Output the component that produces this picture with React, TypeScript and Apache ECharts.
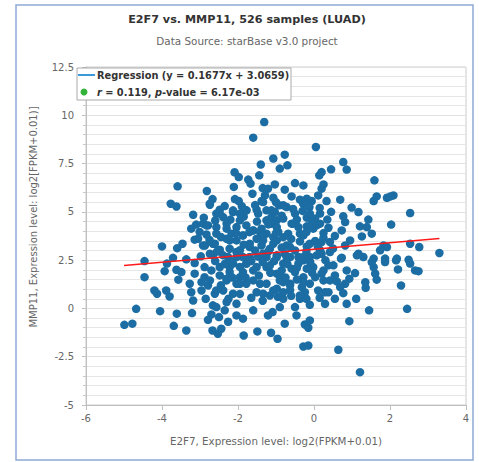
import React, { useEffect, useRef } from "react";
import * as echarts from "echarts";

const titleText = "E2F7 vs. MMP11, 526 samples (LUAD)";
const subtitleText = "Data Source: starBase v3.0 project";
const xAxisName = "E2F7, Expression level: log2(FPKM+0.01)";
const yAxisName = "MMP11, Expression level: log2[FPKM+0.01)]";
const regressionLabel = "Regression (y = 0.1677x + 3.0659)";
const statsLabel = "{i|r} = 0.119, {i|p}-value = 6.17e-03";

const slope = 0.1677;
const intercept = 3.0659;
const regressionRange = [-5.0, 3.3];

const xTicks = { min: -6, max: 4, interval: 2 };
const yTicks = { min: -5, max: 12.5, interval: 2.5 };

const samplePoints: [number, number][] = [
  [-1.31, 9.65], [-1.6, 8.84], [-1.07, 7.76], [-1.4, 7.45], [-2.09, 7.05], [-1.98, 6.8], [-1.44, 6.89], [-1.73, 6.67],
  [-1.67, 6.46], [-3.59, 6.32], [-2.11, 6.29], [-1.35, 6.23], [-1.21, 6.2], [-2.82, 6.08], [-1.62, 5.94], [-1.29, 5.85],
  [-1.07, 5.73], [-2.67, 5.66], [-2.08, 5.66], [-1.98, 5.56], [-1.38, 5.56], [-3.77, 5.42], [-3.62, 5.28], [-2.74, 5.37],
  [-2.48, 5.11], [-1.78, 5.08], [-1.51, 5.11], [-1.25, 5.08], [-3.18, 4.85], [-2.57, 4.91], [-2.13, 4.99], [-1.95, 4.91],
  [-2.39, 4.73], [-1.12, 4.73], [-0.98, 4.56], [-3.1, 4.34], [-2.92, 4.39], [-2.79, 4.3], [-3.23, 4.13], [-2.57, 4.21],
  [-2.3, 4.13], [-2.04, 4.21], [-1.78, 4.3], [-1.6, 4.04], [-1.38, 4.13], [-3.01, 3.96], [-2.83, 3.83], [-2.17, 3.87],
  [-1.87, 3.78], [-1.25, 3.87], [-3.14, 3.56], [-3.05, 3.61], [-2.3, 3.61], [-2.04, 3.52], [-1.51, 3.61], [-1.07, 3.69],
  [-4.0, 3.21], [-3.6, 3.12], [-3.46, 3.35], [-2.87, 3.26], [-2.66, 3.35], [-2.48, 3.04], [-2.22, 3.09], [-1.95, 3.01],
  [-1.69, 3.18], [-1.38, 3.26], [-1.16, 3.09], [-3.71, 2.62], [-3.36, 2.54], [-4.46, 2.45], [-2.98, 2.7], [-2.66, 2.75],
  [-2.26, 2.66], [-1.87, 2.66], [-1.47, 2.68], [-1.25, 2.66], [-0.98, 2.66],
  [0.05, 8.36], [-0.77, 7.96], [-0.7, 7.41], [-0.9, 7.24], [0.77, 7.58], [0.86, 7.19], [0.45, 7.2], [0.2, 7.06],
  [0.14, 6.89], [1.59, 6.63], [-0.5, 6.49], [-0.28, 6.37], [0.25, 6.42], [0.2, 6.2], [-1.03, 6.42], [-0.77, 6.15],
  [1.65, 5.8], [1.57, 5.56], [1.92, 5.73], [2.09, 5.85], [2.01, 5.8], [-0.59, 5.8], [-0.37, 5.63], [-0.19, 5.68],
  [-0.06, 5.56], [0.11, 5.85], [0.33, 5.56], [0.69, 5.63], [-0.92, 5.34], [-0.72, 5.25], [-0.28, 5.42], [-0.12, 5.25],
  [0.99, 5.22], [1.17, 4.99], [2.53, 4.94], [-1.03, 4.99], [-0.5, 4.91], [0.16, 4.91], [0.77, 4.77], [-0.81, 4.65],
  [-0.19, 4.7], [0.03, 4.65], [1.43, 4.6], [0.82, 4.47], [-1.12, 4.39], [-0.59, 4.39], [0.16, 4.39], [1.21, 4.25],
  [1.39, 4.21], [2.03, 4.34], [-0.41, 4.21], [-0.19, 4.25], [-0.02, 4.13], [0.38, 4.18], [0.73, 4.04], [-0.94, 3.96],
  [-0.68, 3.87], [-0.28, 3.78], [0.25, 3.9], [1.26, 3.73], [1.52, 3.87], [0.95, 3.52], [-0.98, 3.52], [-0.37, 3.47],
  [0.03, 3.49], [0.42, 3.44], [1.83, 3.26], [1.92, 3.18], [2.53, 3.35], [2.77, 3.18], [3.3, 2.87], [-0.72, 3.26],
  [-0.19, 3.21], [0.16, 3.01], [0.82, 3.26], [1.74, 3.01], [0.42, 2.92], [1.17, 2.83], [1.3, 2.66], [-0.77, 2.83],
  [-0.41, 2.66], [-0.11, 2.66], [0.73, 2.63], [1.57, 2.58], [1.87, 2.58], [2.18, 2.58], [2.49, 2.52],
  [-4.46, 1.62], [-3.87, 2.32], [-3.93, 1.93], [-3.62, 2.0], [-3.49, 1.88], [-3.57, 1.49], [-4.2, 0.93], [-4.13, 0.76],
  [-3.89, 0.93], [-3.8, 0.62], [-4.68, -0.02], [-4.05, -0.14], [-3.61, -0.27], [-4.99, -0.85], [-4.78, -0.79], [-3.69, -0.9],
  [-3.36, -1.14], [-3.14, 2.35], [-3.14, 1.8], [-3.27, 1.28], [-3.23, 0.84], [-3.18, 0.41], [-3.21, -0.24], [-2.96, 1.36],
  [-2.88, 1.62], [-2.7, 1.97], [-2.79, 1.19], [-2.61, 0.76], [-2.85, 0.5], [-2.66, 0.16], [-2.57, 0.07], [-2.7, -0.31],
  [-2.79, -0.59], [-2.5, -0.45], [-2.3, 0.33], [-2.35, -0.1], [-2.26, -0.69], [-2.04, 0.24], [-2.04, -0.36], [-1.87, -0.53],
  [-1.6, -0.1], [-2.67, -1.14], [-2.53, -1.31], [-2.44, -1.05], [-1.85, -1.4], [-1.49, -1.19], [-1.13, -1.26], [-0.96, -1.57],
  [-1.21, -0.36], [-1.09, -0.19], [-2.39, 0.93], [-2.3, 1.45], [-2.48, 1.71], [-2.22, 2.14], [-1.95, 1.62], [-1.78, 1.28],
  [-2.04, 1.28], [-1.6, 1.97], [-1.42, 1.28], [-1.34, 0.76], [-1.07, 0.93], [-0.98, 1.8], [-1.25, 2.14], [-1.78, 2.32],
  [-2.04, 2.66], [-2.96, 0.93],
  [1.21, -3.3], [0.64, -2.14], [-0.28, -1.97], [-0.15, -1.92], [0.93, -0.66], [2.45, -0.02], [1.45, -0.1], [-0.24, -0.83],
  [-0.11, -0.62], [-0.15, -1.0], [-0.77, -0.79], [-0.46, -0.36], [-0.5, 0.07], [-0.9, 0.07], [-0.11, 0.19], [0.29, 0.24],
  [0.86, 0.24], [1.11, 0.5], [-0.81, 0.5], [-0.37, 0.5], [2.29, 1.19], [1.36, 1.07], [1.35, 1.36], [1.65, 1.49],
  [1.61, 1.8], [1.57, 2.14], [1.52, 2.4], [1.87, 2.4], [2.21, 2.02], [2.66, 1.97], [2.75, 1.93], [2.53, 2.32],
  [2.16, 2.49], [0.71, 2.58], [1.13, 2.75], [0.86, 1.97], [1.08, 1.83], [0.93, 1.54], [0.82, 1.28], [0.69, 1.1],
  [0.77, 0.79], [0.55, 1.71], [0.42, 1.45], [0.29, 0.84], [0.38, 0.84], [0.03, 1.62], [0.2, 1.8], [-0.02, 2.14],
  [0.38, 2.23], [0.51, 2.23], [-0.19, 2.06], [-0.28, 1.62], [-0.11, 1.28], [-0.32, 1.1], [-0.24, 0.84], [-0.63, 1.28],
  [-0.81, 1.36], [-0.63, 0.93], [-0.98, 1.02], [-0.9, 1.71], [-0.59, 2.06], [-0.41, 2.32], [-0.72, 2.66], [0.2, 2.83],
  [-0.28, 2.66],
  [-2.74, 5.42], [-2.48, 4.91], [-2.13, 5.08], [-1.78, 5.08], [-1.34, 5.51], [-0.81, 5.34], [-0.28, 5.42], [-0.11, 4.91],
  [-2.83, 4.3], [-2.3, 4.39], [-1.95, 4.56], [-1.6, 4.04], [-1.25, 4.56], [-0.98, 4.21], [-0.55, 4.39], [-0.37, 3.87],
  [0.07, 4.3], [-2.92, 3.26], [-2.61, 3.35], [-2.22, 3.52], [-1.87, 3.78], [-1.69, 3.35], [-1.34, 3.52], [-1.07, 3.35],
  [-0.81, 3.69], [-0.63, 3.18], [-0.11, 3.35], [0.2, 3.44], [-2.74, 2.83], [-2.39, 2.75], [-2.04, 2.92], [-1.69, 2.66],
  [-1.34, 2.83], [-0.98, 2.75], [-0.63, 2.66], [-0.28, 2.49], [0.07, 2.75], [-2.88, 2.14], [-2.48, 2.14], [-2.13, 2.32],
  [-1.87, 1.88], [-1.51, 2.14], [-1.16, 2.23], [-0.85, 1.97], [-0.5, 1.88], [-0.11, 2.06], [0.25, 1.97], [-2.74, 1.45],
  [-2.3, 1.54], [-1.95, 1.28], [-1.6, 1.45], [-1.25, 1.28], [-0.9, 1.45], [-0.63, 1.19], [-0.28, 1.36], [-2.57, 0.93],
  [-2.13, 0.76], [-1.51, 0.84], [-1.16, 0.67], [-0.81, 0.84], [-0.37, 0.67], [0.11, 0.93], [-1.47, 4.91], [-1.12, 5.08],
  [-2.57, 3.87], [-1.42, 3.96], [-0.81, 2.32], [-1.78, 2.32], [-2.22, 1.88],
  [-2.9, 4.7], [-2.6, 4.55], [-2.2, 4.6], [-1.85, 4.75], [-1.5, 4.5], [-1.2, 4.35], [-0.85, 4.8], [-0.45, 4.6],
  [-0.05, 4.5], [0.35, 4.6], [-2.75, 3.55], [-2.45, 3.7], [-2.05, 3.9], [-1.7, 3.95], [-1.35, 3.75], [-1.0, 3.9],
  [-0.6, 3.6], [-0.2, 3.95], [0.25, 3.65], [0.55, 3.75], [-2.55, 2.95], [-2.2, 2.45], [-1.85, 3.3], [-1.55, 3.0],
  [-1.2, 2.95], [-0.85, 3.15], [-0.5, 3.0], [-0.2, 2.95], [0.1, 3.2], [0.5, 3.1], [-2.6, 2.45], [-2.35, 2.3],
  [-1.95, 2.15], [-1.65, 2.45], [-1.35, 2.4], [-1.05, 2.45], [-0.7, 2.3], [-0.45, 2.1], [-0.1, 2.4], [0.3, 2.5],
  [-2.45, 1.2], [-2.15, 1.6], [-1.8, 1.6], [-1.45, 1.7], [-1.15, 1.85], [-0.75, 1.6], [-0.45, 1.5], [-0.05, 1.85],
  [0.25, 1.45], [0.6, 1.4], [-2.25, 0.5], [-1.95, 0.75], [-1.65, 0.55], [-1.35, 0.4], [-0.95, 0.6], [-0.6, 0.65],
  [-0.2, 0.5], [0.15, 0.55], [0.55, 0.5], [-1.9, 5.3], [-1.55, 5.35], [-1.0, 5.5], [-0.55, 5.15], [-0.3, 5.05],
  [0.15, 5.2], [0.45, 5.0], [-2.35, 5.3],
];

const FONT = "DejaVu Sans";

export default function App() {
  const ref = useRef<HTMLDivElement>(null);
  useEffect(() => {
    if (!ref.current) return;
    const chart = echarts.init(ref.current, undefined, { renderer: "svg" });
    const regressionData = regressionRange.map((x) => [x, +(slope * x + intercept).toFixed(4)]);
    chart.setOption({
      animation: false,
      backgroundColor: "#ffffff",
      textStyle: { fontFamily: FONT },
      grid: {
        left: 86,
        right: 13,
        top: 67,
        bottom: 57,
        show: true,
        backgroundColor: "#ffffff",
        borderColor: "#cccccc",
        borderWidth: 1,
      },
      xAxis: {
        type: "value",
        min: xTicks.min,
        max: xTicks.max,
        interval: xTicks.interval,
        name: xAxisName,
        nameLocation: "middle",
        nameGap: 31,
        nameTextStyle: { color: "#666666", fontSize: 10.3, fontFamily: FONT },
        axisLine: { show: true, onZero: false, lineStyle: { color: "#c0c0c0" } },
        axisTick: { show: true, length: 5, lineStyle: { color: "#c0c0c0" } },
        axisLabel: { color: "#666666", fontSize: 10, margin: 8, fontFamily: FONT },
        splitLine: { show: false },
      },
      yAxis: {
        type: "value",
        min: yTicks.min,
        max: yTicks.max,
        interval: yTicks.interval,
        axisLine: { show: true, onZero: false, lineStyle: { color: "#c0c0c0" } },
        axisTick: { show: true, length: 4, lineStyle: { color: "#c0c0c0" } },
        minorTick: { show: true, splitNumber: 5, length: 3, lineStyle: { color: "#c8c8c8" } },
        axisLabel: { color: "#666666", fontSize: 10, margin: 12, fontFamily: FONT },
        splitLine: { show: true, lineStyle: { color: "#e2e2e2" } },
        minorSplitLine: { show: true, lineStyle: { color: "#e6e6e6" } },
      },
      series: [
        {
          type: "scatter",
          name: "samples",
          data: samplePoints,
          symbolSize: 8.5,
          itemStyle: { color: "#1b6da3", opacity: 1 },
          z: 2,
        },
        {
          type: "line",
          name: "Regression",
          data: regressionData,
          showSymbol: false,
          lineStyle: { color: "#ff1a1a", width: 1.5 },
          z: 3,
        },
      ],
      graphic: [
        {
          type: "rect",
          shape: { x: 16, y: 5, width: 457, height: 455 },
          style: { fill: "none", stroke: "#8ea9d6", lineWidth: 1.5 },
          silent: true,
        },
        {
          type: "text",
          x: 247,
          y: 19,
          style: {
            text: titleText,
            fill: "#333333",
            font: `bold 11.2px ${FONT}`,
            textAlign: "center",
            textVerticalAlign: "middle",
          },
        },
        {
          type: "text",
          x: 247,
          y: 41,
          style: {
            text: subtitleText,
            fill: "#666666",
            font: `10.4px ${FONT}`,
            textAlign: "center",
            textVerticalAlign: "middle",
          },
        },
        {
          type: "text",
          x: 33,
          y: 217,
          rotation: Math.PI / 2,
          style: {
            text: yAxisName,
            fill: "#666666",
            font: `10px ${FONT}`,
            textAlign: "center",
            textVerticalAlign: "middle",
          },
        },
        {
          type: "rect",
          z: 100,
          shape: { x: 77, y: 68, width: 214, height: 32 },
          style: { fill: "#ffffff", stroke: "#aaaaaa", lineWidth: 1 },
        },
        {
          type: "line",
          z: 101,
          shape: { x1: 78, y1: 75, x2: 95, y2: 75 },
          style: { stroke: "#3a9ad9", lineWidth: 2 },
        },
        {
          type: "text",
          z: 101,
          x: 97,
          y: 75,
          style: {
            text: regressionLabel,
            fill: "#333333",
            font: `bold 9.8px ${FONT}`,
            textAlign: "left",
            textVerticalAlign: "middle",
          },
        },
        {
          type: "circle",
          z: 101,
          shape: { cx: 84, cy: 92, r: 3.5 },
          style: { fill: "#33b33a" },
        },
        {
          type: "text",
          z: 101,
          x: 97,
          y: 92,
          style: {
            text: statsLabel,
            fill: "#333333",
            font: `bold 9.8px ${FONT}`,
            textAlign: "left",
            textVerticalAlign: "middle",
            rich: {
              i: { fontStyle: "italic", fontWeight: "bold", fontSize: 9.8, fontFamily: FONT, fill: "#333333" },
            },
          },
        },
      ],
    });
    return () => chart.dispose();
  }, []);
  return (
    <div
      ref={ref}
      style={{ position: "fixed", left: 0, top: 0, width: 479, height: 462 }}
    />
  );
}
